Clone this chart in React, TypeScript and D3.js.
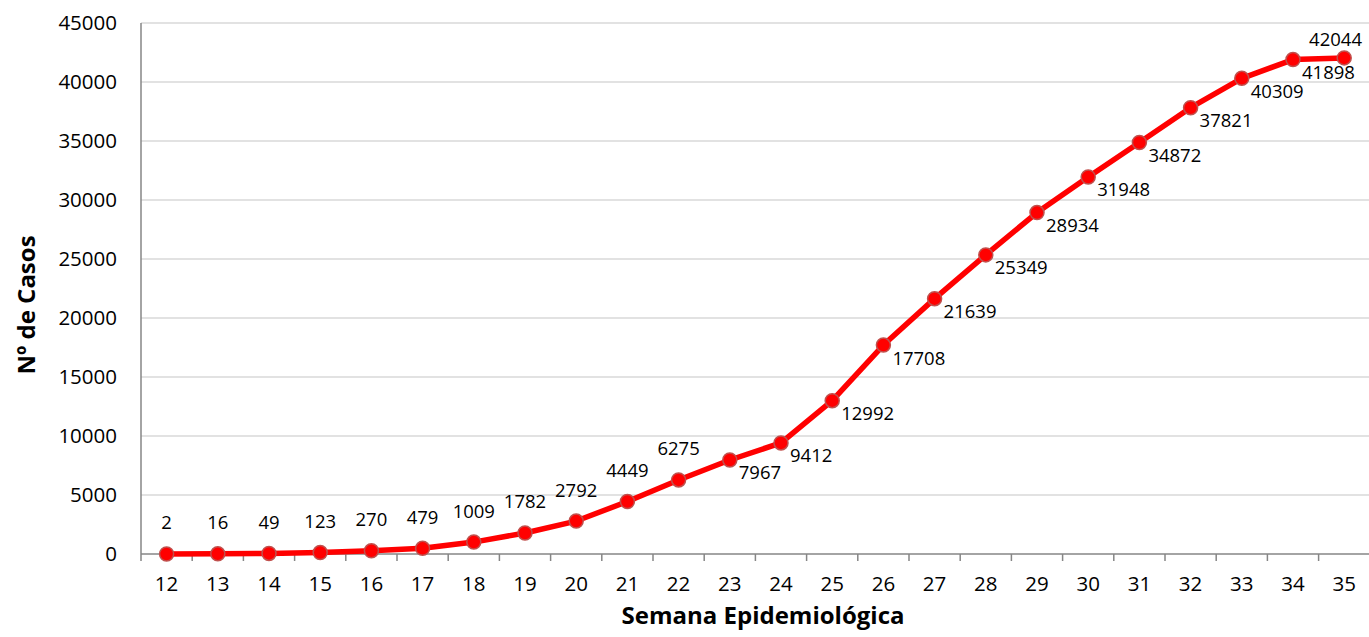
import React from 'react';
import * as d3 from 'd3';

// semanas epidemiológicas e casos acumulados
const weeks = ['12', '13', '14', '15', '16', '17', '18', '19', '20', '21', '22', '23',
  '24', '25', '26', '27', '28', '29', '30', '31', '32', '33', '34', '35'];
const cases = [2, 16, 49, 123, 270, 479, 1009, 1782, 2792, 4449, 6275, 7967,
  9412, 12992, 17708, 21639, 25349, 28934, 31948, 34872, 37821, 40309, 41898, 42044];
const yTicks = [0, 5000, 10000, 15000, 20000, 25000, 30000, 35000, 40000, 45000];

const W = 1369;
const H = 637;
const FONT = '"Open Sans", "Noto Sans", sans-serif';

const App = () => {
  const left = 141;
  const top = 23;
  const bottom = 554;

  const x = d3.scaleBand<string>().domain(weeks).range([left, left + 24 * 51.2]);
  const y = d3.scaleLinear().domain([0, 45000]).range([bottom, top]);
  const cx = (w: string) => (x(w) as number) + x.bandwidth() / 2;

  const line = d3
    .line<number>()
    .x((_, i) => cx(weeks[i]))
    .y((d) => y(d));

  const last = cases.length - 1;

  return (
    <div style={{ position: 'absolute', left: 0, top: 0 }}>
      <svg width={W} height={H} style={{ display: 'block', background: '#fff' }} fontFamily={FONT}>
        {/* gridlines */}
        {yTicks.slice(1).map((t) => (
          <line key={t} x1={left} x2={W} y1={y(t)} y2={y(t)} stroke="#d9d9d9" strokeWidth={1.5} />
        ))}

        {/* y axis */}
        <line x1={left} x2={left} y1={top} y2={bottom} stroke="#868686" strokeWidth={1.5} />
        {yTicks.map((t) => (
          <text key={t} x={117} y={y(t)} dy="0.35em" textAnchor="end" fontSize={20.5} fill="#000">
            {t}
          </text>
        ))}

        {/* x axis */}
        <line x1={left} x2={W} y1={bottom} y2={bottom} stroke="#868686" strokeWidth={1.5} />
        {weeks.map((w) => (
          <line key={'t' + w} x1={x(w)} x2={x(w)} y1={bottom} y2={bottom + 7} stroke="#868686" strokeWidth={1.5} />
        ))}
        {weeks.map((w) => (
          <text key={'l' + w} x={cx(w)} y={584} dy="0.35em" textAnchor="middle" fontSize={20.5} fill="#000">
            {w}
          </text>
        ))}

        {/* axis titles */}
        <text x={763} y={624} textAnchor="middle" fontSize={24} fontWeight="bold" fill="#000">
          Semana Epidemiológica
        </text>
        <text
          transform={`translate(27,305) rotate(-90)`}
          dy="0.35em"
          textAnchor="middle"
          fontSize={24}
          fontWeight="bold"
          fill="#000"
        >
          Nº de Casos
        </text>

        {/* series */}
        <path d={line(cases) || ''} fill="none" stroke="#ff0000" strokeWidth={5.5} strokeLinejoin="round" />
        {cases.map((v, i) => (
          <circle key={'c' + i} cx={cx(weeks[i])} cy={y(v)} r={7} fill="#ff0000" stroke="#c0504d" strokeWidth={1.5} />
        ))}

        {/* data labels */}
        {cases.map((v, i) => {
          const px = cx(weeks[i]);
          const py = y(v);
          if (i <= 10) {
            return (
              <text key={'d' + i} x={px} y={py - 31} dy="0.35em" textAnchor="middle" fontSize={18.5} fill="#000">
                {v}
              </text>
            );
          }
          if (i === last) {
            return (
              <text key={'d' + i} x={W - 7} y={py - 18} dy="0.35em" textAnchor="end" fontSize={18.5} fill="#000">
                {v}
              </text>
            );
          }
          return (
            <text key={'d' + i} x={px + 9} y={py + 13} dy="0.35em" textAnchor="start" fontSize={18.5} fill="#000">
              {v}
            </text>
          );
        })}
      </svg>
    </div>
  );
};

export default App;
